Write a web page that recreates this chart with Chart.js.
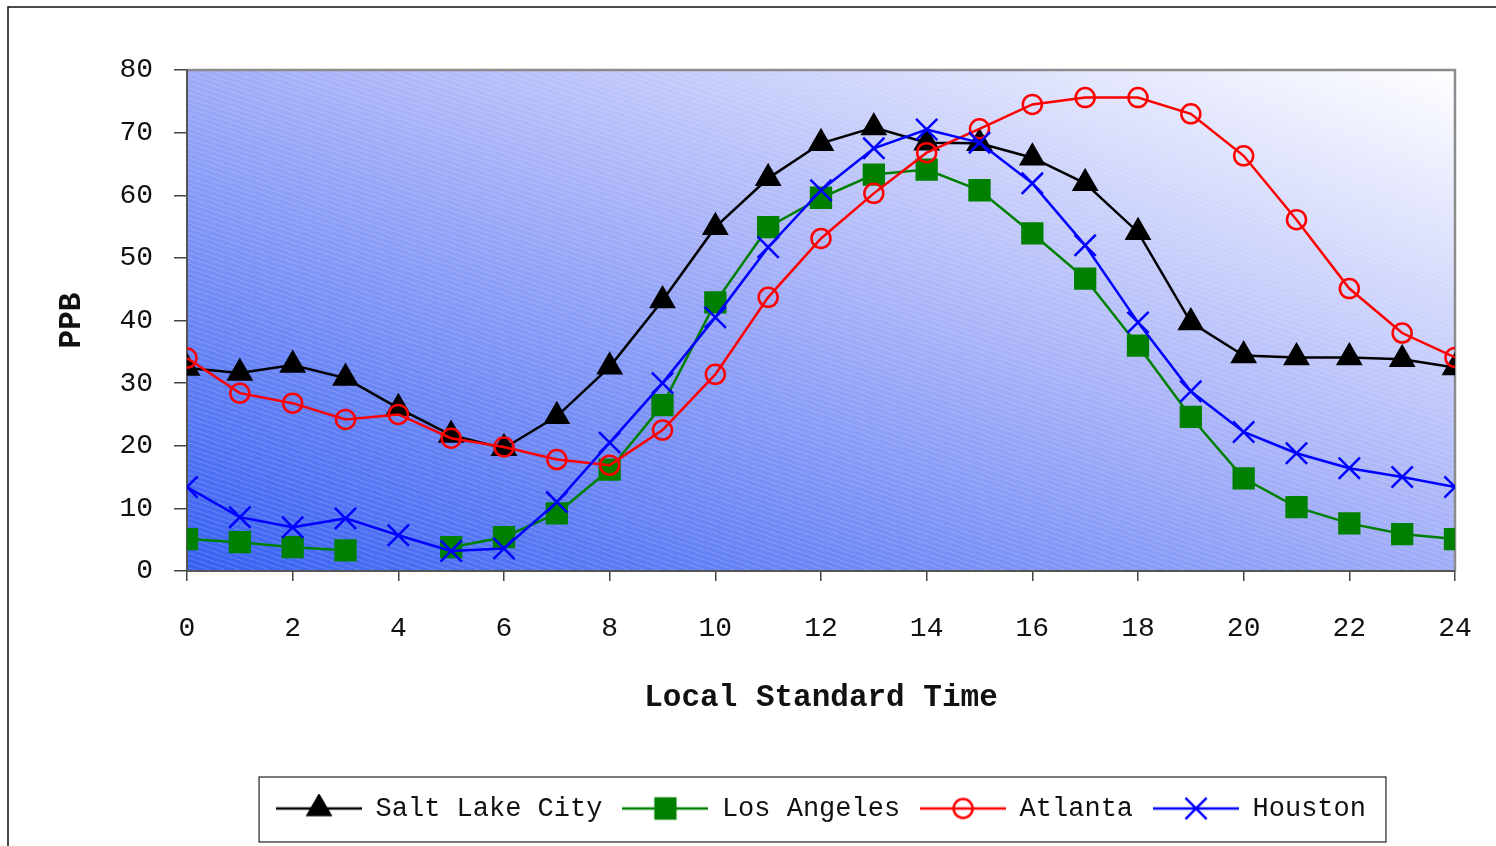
<!DOCTYPE html>
<html>
<head>
<meta charset="utf-8">
<script src="https://cdn.jsdelivr.net/npm/chart.js@4/dist/chart.umd.min.js"></script>
<style>
  html, body { margin: 0; padding: 0; background: #fff; }
  canvas { display: block; }
</style>
</head>
<body>
<canvas id="chart" width="1496" height="846"></canvas>
<script>
/* ---------- dados ---------- */
const hours = [0, 1, 2, 3, 4, 5, 6, 7, 8, 9, 10, 11, 12, 13, 14, 15, 16, 17, 18, 19, 20, 21, 22, 23, 24];
const saltLakeCity = [32.4, 31.6, 32.9, 30.8, 26.0, 21.7, 19.6, 24.7, 32.6, 43.2, 54.9, 62.7, 68.3, 70.8, 68.4, 68.3, 66.0, 61.9, 54.1, 39.7, 34.4, 34.1, 34.1, 33.8, 32.5];
const losAngeles = [5.1, 4.6, 3.8, 3.3, null, 3.8, 5.4, 9.2, 16.2, 26.5, 42.9, 54.9, 59.6, 63.3, 64.1, 60.8, 53.9, 46.7, 36.0, 24.6, 14.8, 10.2, 7.6, 5.9, 5.1];
const atlanta = [34.0, 28.4, 26.8, 24.2, 25.0, 21.2, 19.8, 17.8, 16.9, 22.5, 31.4, 43.7, 53.1, 60.3, 66.8, 70.6, 74.5, 75.6, 75.6, 73.0, 66.3, 56.1, 45.1, 38.0, 34.1];
const houston = [13.4, 8.6, 7.0, 8.4, 5.7, 3.2, 3.6, 11.0, 20.5, 30.0, 40.5, 51.7, 60.8, 67.5, 70.5, 68.4, 61.9, 52.0, 39.7, 28.7, 22.2, 18.8, 16.4, 15.0, 13.4];

const FONT = "'Liberation Mono', 'DejaVu Sans Mono', monospace";

/* ---------- ícone da legenda: linha + marcador ---------- */
function legendIcon(color, style, radius, fill) {
  const c = document.createElement('canvas');
  c.width = 86; c.height = 30;
  const ctx = c.getContext('2d');
  ctx.strokeStyle = color;
  ctx.lineWidth = 2.5;
  ctx.beginPath(); ctx.moveTo(0, 15); ctx.lineTo(86, 15); ctx.stroke();
  ctx.fillStyle = fill;
  Chart.helpers.drawPoint(ctx, { pointStyle: style, radius, borderWidth: 2.5, rotation: 0 }, 43, 15);
  return c;
}

function serie(label, data, color, style, radius, fill) {
  return {
    label,
    data: data.map((v, i) => ({ x: hours[i], y: v })),
    borderColor: color,
    backgroundColor: fill,
    borderWidth: 2.5,
    pointStyle: style,
    pointRadius: radius,
    pointBorderWidth: 2.5,
    pointBorderColor: color,
    pointBackgroundColor: fill,
    tension: 0,
    spanGaps: false,
    legendIcon: legendIcon(color, style, radius, fill)
  };
}

// ordem invertida: o primeiro dataset fica por cima
const datasets = [
  serie('Houston', houston, '#0000ff', 'crossRot', 15, '#0000ff'),
  serie('Atlanta', atlanta, '#ff0000', 'circle', 9.5, 'rgba(0,0,0,0)'),
  serie('Los Angeles', losAngeles, '#008000', 'rect', 14, '#008000'),
  serie('Salt Lake City', saltLakeCity, '#000000', 'triangle', 13, '#000000')
];

/* ---------- fundo da área do gráfico ---------- */
const plotBackground = {
  id: 'plotBackground',
  beforeDraw(chart) {
    const { ctx, chartArea: a } = chart;
    ctx.save();
    ctx.fillStyle = '#fff';
    ctx.fillRect(0, 0, chart.width, chart.height);
    ctx.strokeStyle = '#111';
    ctx.lineWidth = 1.5;
    ctx.strokeRect(8, 7, chart.width + 20, chart.height + 20);

    ctx.translate(a.left, a.top);
    ctx.scale(a.right - a.left, a.bottom - a.top);
    const g = ctx.createLinearGradient(0, 1, 1, 0);
    g.addColorStop(0, '#3660f2');
    g.addColorStop(0.5, '#a0acf8');
    g.addColorStop(1, '#ffffff');
    ctx.fillStyle = g;
    ctx.fillRect(0, 0, 1, 1);
    ctx.restore();

    // hachura fina
    const tile = document.createElement('canvas');
    tile.width = 15; tile.height = 5;
    const t = tile.getContext('2d');
    t.strokeStyle = 'rgba(255,255,255,0.18)';
    t.lineWidth = 1;
    t.beginPath(); t.moveTo(-15, -5); t.lineTo(30, 10); t.stroke();
    ctx.save();
    ctx.fillStyle = ctx.createPattern(tile, 'repeat');
    ctx.fillRect(a.left, a.top, a.right - a.left, a.bottom - a.top);
    ctx.strokeStyle = '#8c8c8c';
    ctx.lineWidth = 2.5;
    ctx.beginPath();
    ctx.moveTo(a.left, a.top); ctx.lineTo(a.right, a.top); ctx.lineTo(a.right, a.bottom);
    ctx.stroke();
    ctx.restore();
  },
  afterDraw(chart) {
    const boxes = chart.legend.legendHitBoxes;
    if (!boxes || !boxes.length) return;
    const left = Math.min(...boxes.map(b => b.left));
    const right = Math.max(...boxes.map(b => b.left + b.width));
    const top = Math.min(...boxes.map(b => b.top));
    const bottom = Math.max(...boxes.map(b => b.top + b.height));
    const { ctx } = chart;
    ctx.save();
    ctx.strokeStyle = '#222';
    ctx.lineWidth = 1.2;
    ctx.strokeRect(left - 17, top - 18, right - left + 37, bottom - top + 38);
    ctx.restore();
  }
};

new Chart(document.getElementById('chart'), {
  type: 'line',
  data: { datasets },
  plugins: [plotBackground],
  options: {
    responsive: false,
    animation: false,
    events: [],
    layout: { padding: { top: 70, right: 41, bottom: 14, left: 0 } },
    plugins: {
      tooltip: { enabled: false },
      legend: {
        position: 'bottom',
        fullSize: false,
        reverse: true,
        labels: {
          usePointStyle: true,
          pointStyleWidth: 86,
          padding: 20,
          color: '#111',
          font: { family: FONT, size: 27 },
          generateLabels(chart) {
            return chart.data.datasets.map((ds, i) => ({
              text: ds.label,
              pointStyle: ds.legendIcon,
              fontColor: '#111',
              lineWidth: 0,
              datasetIndex: i
            }));
          }
        }
      }
    },
    scales: {
      x: {
        type: 'linear',
        min: 0, max: 24,
        afterFit(scale) {
          scale.height = 204;
          scale.paddingLeft = 0;
          scale.paddingRight = 0;
        },
        ticks: { stepSize: 2, color: '#111', padding: 31, maxRotation: 0, font: { family: FONT, size: 28 } },
        grid: { drawOnChartArea: false, drawTicks: true, tickLength: 10, color: '#444', lineWidth: 1.5 },
        border: { color: '#555', width: 2 },
        title: {
          display: true, text: 'Local Standard Time', color: '#111',
          font: { family: FONT, size: 31, weight: 'bold' },
          padding: { top: 0, bottom: 58 }
        }
      },
      y: {
        min: 0, max: 80,
        afterFit(scale) { scale.width = 187; },
        ticks: { stepSize: 10, color: '#111', padding: 21, font: { family: FONT, size: 28 } },
        grid: { drawOnChartArea: false, drawTicks: true, tickLength: 13, color: '#444', lineWidth: 1.5 },
        border: { color: '#555', width: 2 },
        title: {
          display: true, text: 'PPB', color: '#111',
          font: { family: FONT, size: 31, weight: 'bold' },
          padding: { top: 54, bottom: 0 }
        }
      }
    }
  }
});
</script>
</body>
</html>
